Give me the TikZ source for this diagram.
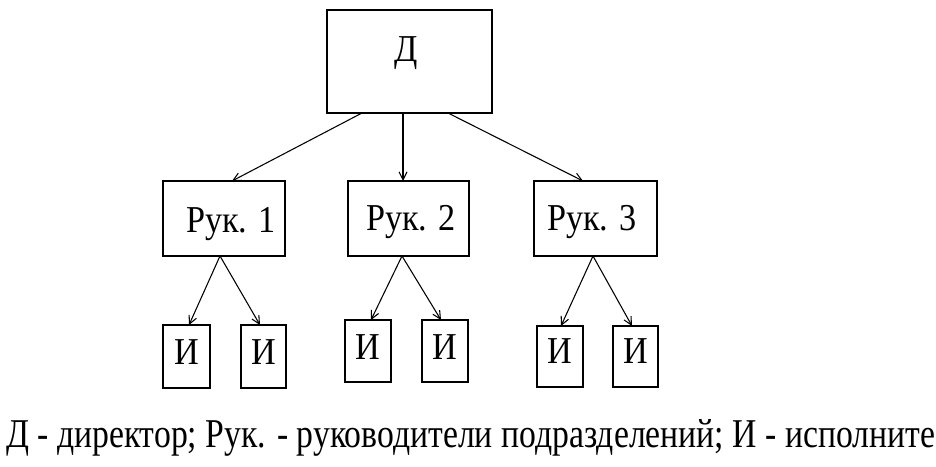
\documentclass[tikz,border=0pt]{standalone}
\usepackage{fontspec}
\usepackage{graphicx}
\setmainfont{Liberation Serif}
\usetikzlibrary{arrows.meta,calc}
\tikzset{
  box/.style={draw=black, line width=1pt, fill=white, inner sep=0pt, outer sep=0pt},
  lbl/.style={inner sep=0pt, outer sep=0pt, font=\fontsize{28.5pt}{30pt}\selectfont},
  arr/.style={draw=black, line width=0.8pt, -{Straight Barb[length=6pt,width=6pt,line width=0.8pt]}},
}
\newcommand{\nx}[1]{\scalebox{0.9}[1]{#1}}
\begin{document}
\begin{tikzpicture}[x=0.75pt,y=-0.75pt]
\useasboundingbox (0,0) rectangle (936,467);
% boxes
\node[box, minimum width=165*0.75pt, minimum height=103*0.75pt] (D) at (409.5,61.5) {};
\node[box, minimum width=122*0.75pt, minimum height=75*0.75pt] (R1) at (224,218.5) {};
\node[box, minimum width=121*0.75pt, minimum height=75*0.75pt] (R2) at (408.5,218.5) {};
\node[box, minimum width=123*0.75pt, minimum height=75*0.75pt] (R3) at (595.5,218.5) {};
\node[box, minimum width=47*0.75pt, minimum height=63*0.75pt] (I11) at (186.5,356.5) {};
\node[box, minimum width=45*0.75pt, minimum height=63*0.75pt] (I12) at (263.5,356.5) {};
\node[box, minimum width=46*0.75pt, minimum height=62*0.75pt] (I21) at (368,351) {};
\node[box, minimum width=46*0.75pt, minimum height=62*0.75pt] (I22) at (445,351) {};
\node[box, minimum width=46*0.75pt, minimum height=61*0.75pt] (I31) at (560,356.5) {};
\node[box, minimum width=45*0.75pt, minimum height=61*0.75pt] (I32) at (635.5,356.5) {};
% labels
\node[lbl, anchor=base] (tD) at (406,62) {\nx{Д}};
\node[lbl, anchor=base] (tR1) at (231,232) {\nx{Рук. 1}};
\node[lbl, anchor=base] (tR2) at (411,230) {\nx{Рук. 2}};
\node[lbl, anchor=base] (tR3) at (592,230) {\nx{Рук. 3}};
\node[lbl, anchor=base] (tI11) at (186.5,364) {\nx{И}};
\node[lbl, anchor=base] (tI12) at (263.5,364) {\nx{И}};
\node[lbl, anchor=base] (tI21) at (368,359) {\nx{И}};
\node[lbl, anchor=base] (tI22) at (445,359) {\nx{И}};
\node[lbl, anchor=base] (tI31) at (560,363) {\nx{И}};
\node[lbl, anchor=base] (tI32) at (635.5,363) {\nx{И}};
% connectors
\draw[arr] ($(D.south west)+(35,0)$) -- ($(R1.north west)+(69,0)$);
\draw[arr] ($(D.south west)+(76,0)$) -- ($(R2.north west)+(55,0)$);
\draw[arr] ($(D.south west)+(121,0)$) -- ($(R3.north west)+(49,0)$);
\draw[arr] ($(R1.south west)+(57,0)$) -- ($(I11.north west)+(26,0)$);
\draw[arr] ($(R1.south west)+(57,0)$) -- ($(I12.north west)+(19,0)$);
\draw[arr] ($(R2.south west)+(54,0)$) -- ($(I21.north west)+(26,0)$);
\draw[arr] ($(R2.south west)+(54,0)$) -- ($(I22.north west)+(19,0)$);
\draw[arr] ($(R3.south west)+(59,0)$) -- ($(I31.north west)+(24,0)$);
\draw[arr] ($(R3.south west)+(59,0)$) -- ($(I32.north west)+(19,0)$);
% caption
\node[inner sep=0pt, outer sep=0pt, anchor=base west] (cap) at (6,447)
  {\resizebox{696.75pt}{21pt}{\fontsize{30pt}{32pt}\selectfont Д - директор; Рук. - руководители подразделений; И - исполните}};
\end{tikzpicture}
\end{document}
